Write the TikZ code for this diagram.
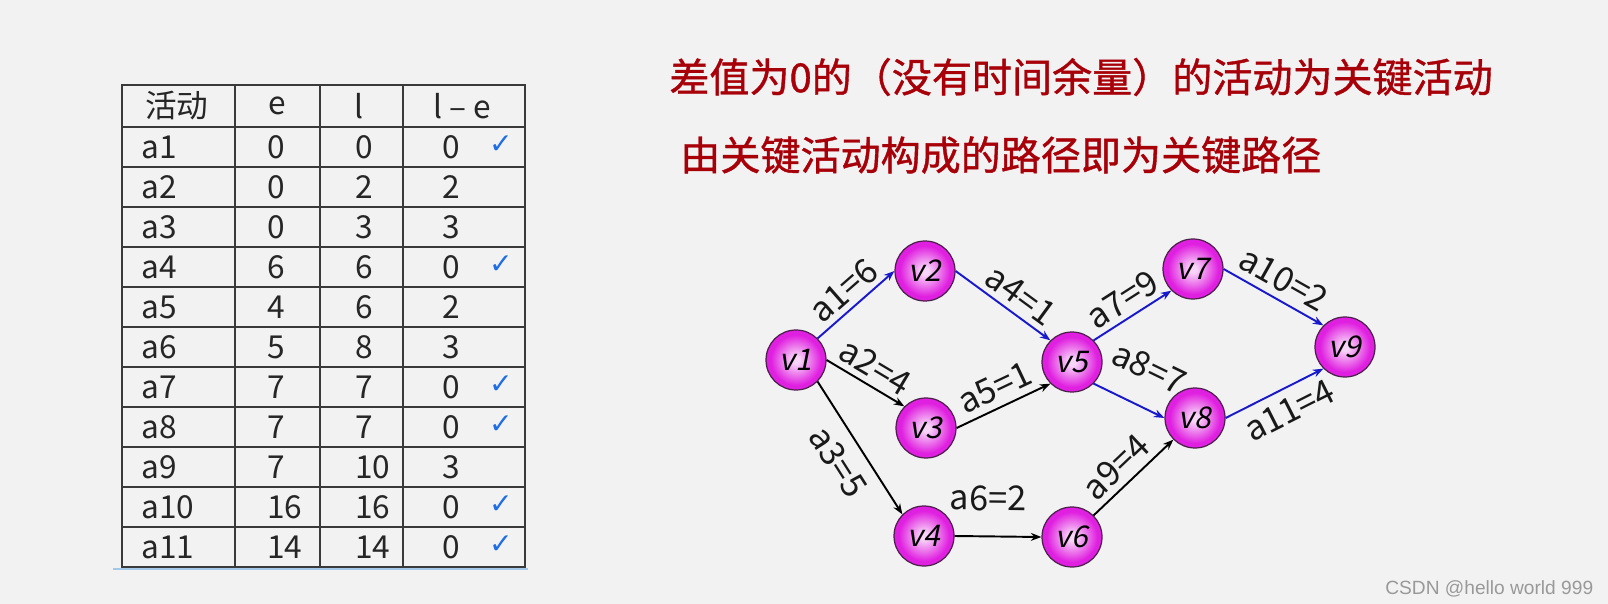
\documentclass[tikz,border=0pt]{standalone}
\usepackage{fontspec}
\setmainfont{Noto Sans CJK SC}
\newfontfamily\vfont[FakeSlant=0.2]{Noto Sans CJK SC}
\newfontfamily\notefont[FakeBold=1]{Noto Sans CJK SC}
\newfontfamily\tickfont{DejaVu Sans}
\newfontfamily\markfont{Liberation Sans}
\usetikzlibrary{arrows.meta}

\definecolor{bgcol}{HTML}{F2F2F2}
\definecolor{gridcol}{HTML}{3A3A3A}
\definecolor{critblue}{HTML}{1818CC}
\definecolor{tickblue}{HTML}{1E6EE6}
\definecolor{underblue}{HTML}{A4C8E8}
\definecolor{noteRed}{HTML}{A80008}
\definecolor{vpink}{HTML}{F8D4F8}
\definecolor{vmag}{HTML}{E020E0}
\definecolor{vrim}{HTML}{4D1F4D}
\pgfdeclareradialshading{vball}{\pgfpoint{0bp}{0bp}}{color(0bp)=(vpink); color(3bp)=(vpink); color(21bp)=(vmag); color(50bp)=(vmag)}

\begin{document}
\begin{tikzpicture}[
    x=0.02cm, y=-0.02cm,
    >={Stealth[length=6pt,width=4.5pt]},
    grid/.style={draw=gridcol, line width=1pt},
    cell/.style={anchor=west, inner sep=0pt, text=black!85, font=\fontsize{18}{18}\selectfont},
    tick/.style={inner sep=0pt, text=tickblue, font=\tickfont\fontsize{16}{16}\selectfont},
    note/.style={anchor=west, inner sep=0pt, text=noteRed, font=\notefont\fontsize{22.8}{22.8}\selectfont},
    vert/.style={circle, draw=vrim, line width=0.7pt, shading=vball, minimum size=1.2cm, inner sep=0pt, font=\vfont\fontsize{17}{17}\selectfont},
    act/.style={->, line width=1.1pt, black},
    crit/.style={->, line width=1.1pt, critblue},
    wt/.style={midway, sloped, inner sep=2pt, text=black!90, font=\fontsize{19.5}{19.5}\selectfont}
]
    \fill[bgcol] (0,0) rectangle (1608,604);

    % table
    \draw[underblue, line width=1.2pt] (113,569) -- (528,569);
    \draw[grid] (122,85) rectangle (525,567);
    \foreach \xx in {235,320,403} \draw[grid] (\xx,85) -- (\xx,567);
    \foreach \yy in {127,167,...,527} \draw[grid] (122,\yy) -- (525,\yy);

    \node[cell] (h-act) at (145,106) {活动};
    \node[cell, anchor=center] (h-e) at (277,106) {e};
    \node[cell, anchor=center] (h-l) at (359,106) {l};
    \node[cell, anchor=center] (h-le) at (462,106) {l – e};

    \foreach \act/\ve/\vl/\vd/\ok [count=\i] in {a1/0/0/0/1, a2/0/2/2/0, a3/0/3/3/0, a4/6/6/0/1,
        a5/4/6/2/0, a6/5/8/3/0, a7/7/7/0/1, a8/7/7/0/1, a9/7/10/3/0, a10/16/16/0/1, a11/14/14/0/1} {
        \node[cell] (act-\i) at (141,{107+40*\i}) {\act};
        \node[cell] (e-\i) at (267,{107+40*\i}) {\ve};
        \node[cell] (l-\i) at (355,{107+40*\i}) {\vl};
        \node[cell] (d-\i) at (442,{107+40*\i}) {\vd};
        \ifnum\ok=1 \node[tick] (ok-\i) at (501,{105+40*\i}) {✓}; \fi
    }

    % notes
    \node[note] (note1) at (669,77) {差值为0的（没有时间余量）的活动为关键活动};
    \node[note] (note2) at (680,155) {由关键活动构成的路径即为关键路径};

    % network
    \node[vert] (v1) at (796,360) {v1};
    \node[vert] (v2) at (925,271) {v2};
    \node[vert] (v3) at (926,428) {v3};
    \node[vert] (v4) at (924,536) {v4};
    \node[vert] (v5) at (1072,362) {v5};
    \node[vert] (v6) at (1072,537) {v6};
    \node[vert] (v7) at (1193,269) {v7};
    \node[vert] (v8) at (1195,418) {v8};
    \node[vert] (v9) at (1345,347) {v9};

    \draw[crit] (v1.north east) -- node[wt, above=1pt] {a1=6} (v2.west);
    \draw[act] (v1.east) -- node[wt, above=1pt] {a2=4} (v3.north west);
    \draw[act] (v1.south east) -- node[wt, below=5pt] {a3=5} (v4.north west);
    \draw[crit] (v2.east) -- node[wt, above=1pt, pos=0.57] {a4=1} (v5.north west);
    \draw[act] (v3.east) -- node[wt, above=2pt] {a5=1} (v5.south west);
    \draw[act] (v4.east) -- node[wt, above=12pt, pos=0.38] {a6=2} (v6.west);
    \draw[crit] (v5.north east) -- node[wt, above=1pt] {a7=9} (v7.south west);
    \draw[crit] (v5.south east) -- node[wt, above=12pt, pos=0.55] {a8=7} (v8.west);
    \draw[act] (v6.north east) -- node[wt, above=1.5pt, pos=0.45] {a9=4} (v8.south west);
    \draw[crit] (v7.east) -- node[wt, above=2pt] {a10=2} (v9.north west);
    \draw[crit] (v8.east) -- node[wt, below=3pt, pos=0.55] {a11=4} (v9.south west);

    \node[anchor=base west, inner sep=0pt, text=black!40, font=\markfont\fontsize{10.9}{10.9}\selectfont] (mark) at (1385,594) {CSDN @hello world 999};
\end{tikzpicture}
\end{document}
